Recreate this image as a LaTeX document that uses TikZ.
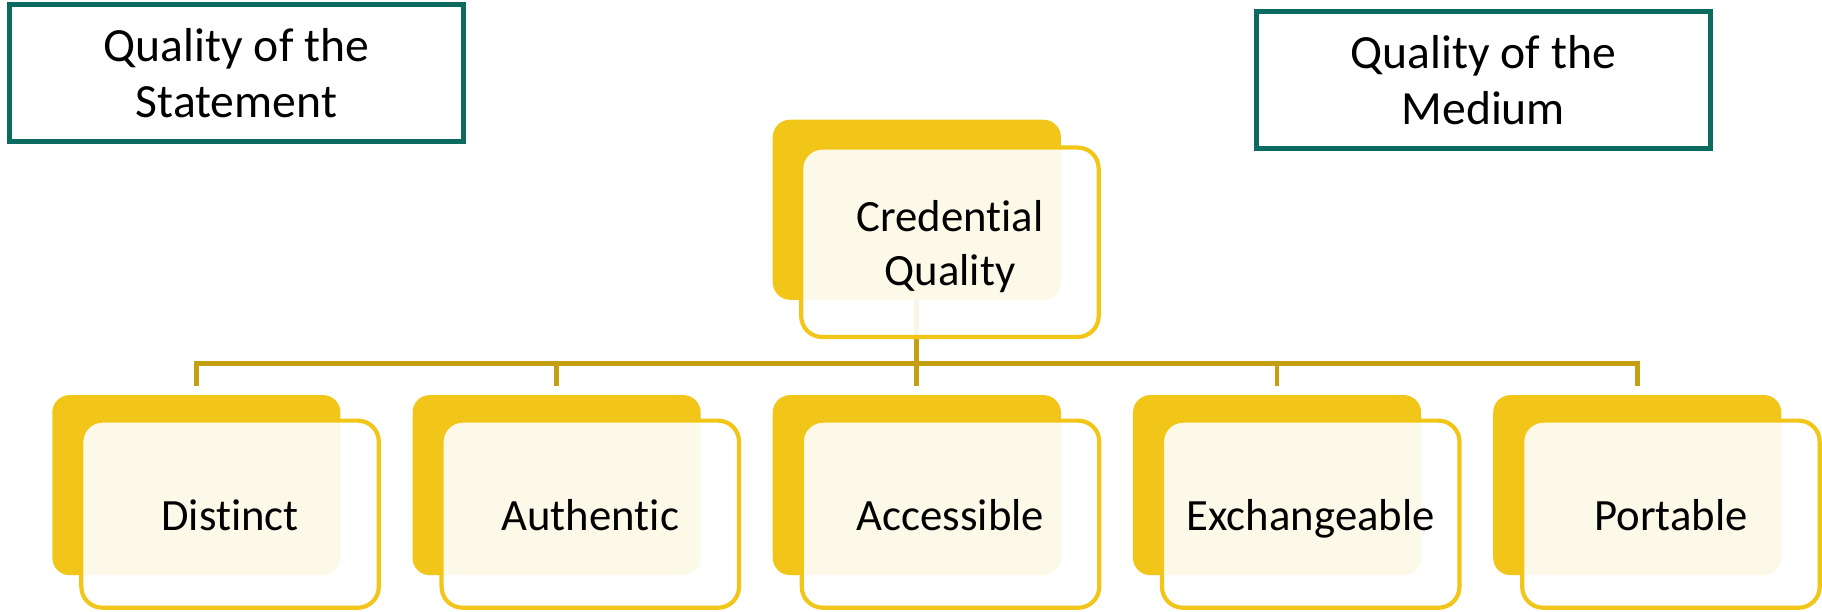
\documentclass[tikz,border=0pt]{standalone}
\usepackage{fontspec}
\setmainfont{Carlito}[Ligatures=NoCommon]
\definecolor{gold}{HTML}{F2C619}
\definecolor{linegold}{HTML}{C49F12}
\definecolor{teal}{HTML}{0B6B5F}
\newcommand\topst{\rule{0pt}{37pt}}
\newcommand\botst{\rule[-9pt]{0pt}{9pt}}
\begin{document}
\begin{tikzpicture}[x=1pt,y=-1pt,
  backbox/.style={fill=gold, rounded corners=15pt, minimum width=248pt, minimum height=155pt, inner sep=0pt},
  frontbox/.style={draw=gold, line width=3.6pt, fill=white, fill opacity=0.9, text opacity=1,
    rounded corners=18pt, minimum width=256pt, minimum height=161pt, inner sep=0pt,
    align=center, font=\fontsize{38.5}{46}\selectfont},
  titlebox/.style={draw=teal, line width=4.2pt, minimum width=391pt, minimum height=118pt, inner sep=0pt,
    align=center, font=\fontsize{41}{48}\selectfont},
  conn/.style={draw=linegold, line width=4pt}]
\useasboundingbox (0,0) rectangle (1568,526);

\node[titlebox] (stmt) at (203.5,63) {\topst Quality of the\\Statement\botst};
\node[titlebox] (med) at (1276.5,69) {\topst Quality of the\\Medium\botst};

\node[backbox] (cqb) at (789,180.5) {};
\node[backbox] (b1) at (169,417.5) {};
\node[backbox] (b2) at (479,417.5) {};
\node[backbox] (b3) at (789,417.5) {};
\node[backbox] (b4) at (1099,417.5) {};
\node[backbox] (b5) at (1409,417.5) {};

\coordinate (bus) at (0,313);
\draw[conn] (cqb.south) -- ([yshift=8pt]b3.north);
\draw[conn] ([yshift=8pt]b1.north) -- (b1.north |- bus) -- (b5.north |- bus) -- ([yshift=8pt]b5.north);
\draw[conn] ([yshift=8pt]b2.north) -- (b2.north |- bus);
\draw[conn] ([yshift=8pt]b4.north) -- (b4.north |- bus);

\node[frontbox, minimum height=163pt] (cq) at (817.5,208.5) {\topst Credential\\Quality\botst};
\node[frontbox] (f1) at (198,442.5) {\topst Distinct\botst};
\node[frontbox] (f2) at (508,442.5) {\topst Authentic\botst};
\node[frontbox] (f3) at (818,442.5) {\topst Accessible\botst};
\node[frontbox] (f4) at (1128,442.5) {\topst Exchangeable\botst};
\node[frontbox] (f5) at (1438,442.5) {\topst Portable\botst};
\end{tikzpicture}
\end{document}
